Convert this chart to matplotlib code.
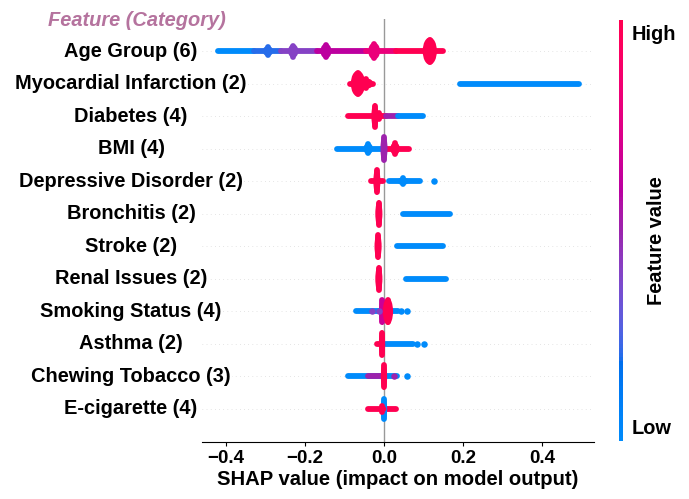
import numpy as np
import matplotlib
matplotlib.use("Agg")
import matplotlib.pyplot as plt
import matplotlib as mpl
from matplotlib.colors import ListedColormap
from matplotlib.patches import Ellipse

plt.rcParams['font.family'] = ['Liberation Sans', 'DejaVu Sans']

features = [
    "Age Group (6)", "Myocardial Infarction (2)", "Diabetes (4)", "BMI (4)",
    "Depressive Disorder (2)", "Bronchitis (2)", "Stroke (2)", "Renal Issues (2)",
    "Smoking Status (4)", "Asthma (2)", "Chewing Tobacco (3)", "E-cigarette (4)",
]

# thin runs of samples: (shap from, shap to, feature value 0..1)
strands = {
    "Age Group (6)": [(-0.420, -0.330, 0.0), (-0.330, -0.260, 0.2), (-0.260, -0.170, 0.4),
                      (-0.170, -0.045, 0.6), (-0.045, 0.030, 0.8), (0.030, 0.149, 1.0)],
    "Myocardial Infarction (2)": [(-0.086, -0.028, 1.0), (0.192, 0.494, 0.0)],
    "Diabetes (4)": [(-0.091, 0.005, 1.0), (0.005, 0.035, 0.5), (0.035, 0.100, 0.0)],
    "BMI (4)": [(-0.120, -0.005, 0.0), (0.005, 0.063, 1.0)],
    "Depressive Disorder (2)": [(-0.033, -0.003, 1.0), (0.012, 0.090, 0.0)],
    "Bronchitis (2)": [(0.048, 0.167, 0.0)],
    "Stroke (2)": [(0.033, 0.149, 0.0)],
    "Renal Issues (2)": [(0.056, 0.157, 0.0)],
    "Smoking Status (4)": [(-0.071, -0.005, 0.0), (0.020, 0.035, 0.0)],
    "Asthma (2)": [(-0.018, 0.000, 1.0), (0.005, 0.073, 0.0)],
    "Chewing Tobacco (3)": [(-0.090, 0.032, 0.0), (-0.040, -0.010, 0.5)],
    "E-cigarette (4)": [(-0.040, 0.030, 1.0)],
}

# dense stacks: (shap centre, half width, half height in rows, feature value)
bulges = {
    "Age Group (6)": [(-0.294, 0.013, 0.16, 0.2), (-0.230, 0.013, 0.21, 0.4),
                      (-0.147, 0.014, 0.23, 0.6), (-0.025, 0.015, 0.26, 0.8),
                      (0.116, 0.018, 0.42, 1.0)],
    "Myocardial Infarction (2)": [(-0.066, 0.018, 0.40, 1.0), (-0.045, 0.018, 0.16, 1.0)],
    "Diabetes (4)": [(-0.023, 0.009, 0.40, 1.0), (-0.012, 0.010, 0.12, 1.0)],
    "BMI (4)": [(-0.040, 0.012, 0.18, 0.0), (0.028, 0.012, 0.20, 1.0), (0.000, 0.009, 0.43, 0.5)],
    "Depressive Disorder (2)": [(-0.018, 0.009, 0.42, 1.0), (0.048, 0.014, 0.12, 0.0)],
    "Bronchitis (2)": [(-0.013, 0.009, 0.42, 1.0)],
    "Stroke (2)": [(-0.015, 0.009, 0.42, 1.0)],
    "Renal Issues (2)": [(-0.013, 0.009, 0.42, 1.0)],
    "Smoking Status (4)": [(-0.004, 0.008, 0.42, 0.65), (0.010, 0.013, 0.42, 1.0)],
    "Asthma (2)": [(-0.005, 0.008, 0.42, 1.0)],
    "Chewing Tobacco (3)": [(0.000, 0.008, 0.42, 1.0)],
    "E-cigarette (4)": [(0.000, 0.008, 0.38, 0.0), (-0.004, 0.010, 0.10, 1.0)],
}

# isolated samples: (shap, feature value)
dots = {
    "Depressive Disorder (2)": [(0.127, 0.0)],
    "Smoking Status (4)": [(0.042, 0.0), (0.058, 0.0), (-0.030, 0.4), (-0.012, 0.4)],
    "Asthma (2)": [(0.084, 0.0), (0.101, 0.0)],
    "Chewing Tobacco (3)": [(0.025, 0.5), (0.058, 0.0)],
}


def red_blue():
    # shap style blue -> red map, interpolated in LCH space
    n = 100
    l = np.r_[np.linspace(54.0, 40.0, n // 2), np.linspace(40.0, 54.0, n // 2)]
    c = np.linspace(70.0, 90.0, n)
    h = np.linspace(4.6588, 0.35470565 + 2 * np.pi, n)
    a, b = c * np.cos(h), c * np.sin(h)
    fy = (l + 16) / 116
    fx, fz = fy + a / 500, fy - b / 200

    def finv(t):
        return np.where(t > 6 / 29, t ** 3, 3 * (6 / 29) ** 2 * (t - 4 / 29))

    xyz = np.stack([0.95047 * finv(fx), finv(fy), 1.08883 * finv(fz)])
    m = np.array([[3.2406, -1.5372, -0.4986],
                  [-0.9689, 1.8758, 0.0415],
                  [0.0557, -0.2040, 1.0570]])
    rgb = np.clip(m @ xyz, 0, 1)
    rgb = np.where(rgb <= 0.0031308, 12.92 * rgb, 1.055 * rgb ** (1 / 2.4) - 0.055)
    return ListedColormap(rgb.T)


cmap = red_blue()

fig = plt.figure(figsize=(6.89, 4.99), dpi=100)
ax = fig.add_axes([202 / 689, 57.5 / 499, 392 / 689, 423 / 499])

n = len(features)
for i, name in enumerate(features):
    y = n - 1 - i
    ax.axhline(y, color="#cccccc", lw=0.5, dashes=(1, 5), zorder=-1)
    for x0, x1, v in strands.get(name, []):
        ax.plot([x0, x1], [y, y], color=cmap(v), lw=4.2, solid_capstyle="round", zorder=2)
    for xc, hw, hh, v in bulges.get(name, []):
        ax.add_patch(Ellipse((xc, y), 2 * hw, 2 * hh, color=cmap(v), lw=0, zorder=3))
        # stacked dots give the spindle a rounded spine
        ax.plot([xc, xc], [y - 0.8 * hh, y + 0.8 * hh], color=cmap(v), lw=4.2,
                solid_capstyle="round", zorder=3)
    for xd, v in dots.get(name, []):
        ax.scatter(xd, y, s=22, color=cmap(v), lw=0, zorder=3)
    ax.text(-0.181, y, name, transform=ax.get_yaxis_transform(), ha="center", va="center",
            fontsize=14.4, fontweight="bold", clip_on=False, zorder=5,
            bbox=dict(fc="white", ec="none", pad=1))

ax.axvline(0, color="#999999", lw=1, zorder=-1)
ax.set_xlim(-0.461, 0.532)
ax.set_ylim(-1, n)
ax.set_yticks([])
ax.set_xticks([-0.4, -0.2, 0.0, 0.2, 0.4])
for s in ["top", "right", "left"]:
    ax.spines[s].set_visible(False)
ax.tick_params(axis="x", labelsize=13.5, length=3, pad=3)
for lab in ax.get_xticklabels():
    lab.set_fontweight("bold")
ax.set_xlabel("SHAP value (impact on model output)", fontsize=14.6, fontweight="bold", labelpad=2)

fig.text(136.5 / 689, 1 - 21 / 499, "Feature (Category)", ha="center", va="center",
         fontsize=14.4, fontweight="bold", style="italic", color="#b5739e")

# colour bar for the feature value
cax = fig.add_axes([619 / 689, 58 / 499, 4 / 689, 421 / 499])
cb = mpl.colorbar.ColorbarBase(cax, cmap=cmap, orientation="vertical")
cb.outline.set_visible(False)
cax.set_yticks([])
cax.set_xticks([])
fig.text(632 / 689, 1 - 35 / 499, "High", ha="left", va="center", fontsize=14.4, fontweight="bold")
fig.text(632 / 689, 1 - 428 / 499, "Low", ha="left", va="center", fontsize=14.4, fontweight="bold")
fig.text(656 / 689, 1 - 241 / 499, "Feature value", ha="center", va="center", rotation=90,
         fontsize=14.4, fontweight="bold")

fig.savefig("out.png", dpi=100)
